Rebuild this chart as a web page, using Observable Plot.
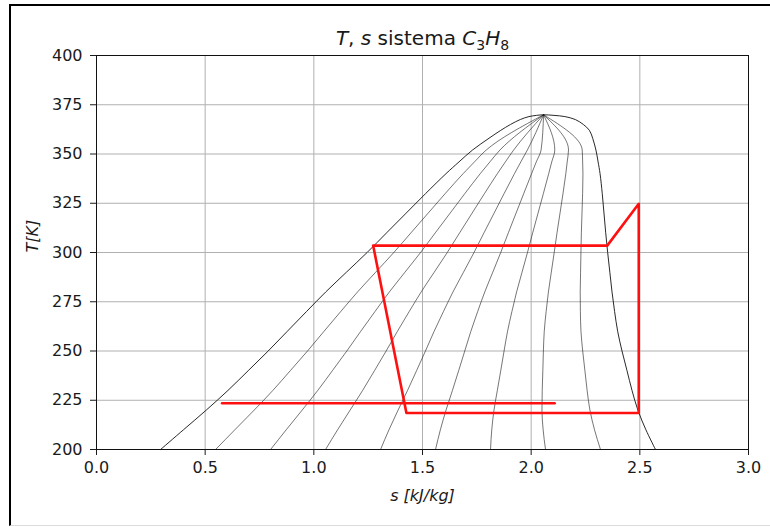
<!DOCTYPE html>
<html><head><meta charset="utf-8">
<script src="https://cdn.jsdelivr.net/npm/d3@7"></script>
<script src="https://cdn.jsdelivr.net/npm/@observablehq/plot@0.6"></script>
<style>
body{margin:0;background:#fff;}
#wrap{position:relative;width:770px;height:527px;overflow:hidden;background:#fff;}
#border{position:absolute;left:9px;top:4px;right:-5px;bottom:1px;border-left:2px solid #000;border-top:2px solid #000;border-bottom:1px solid #dcdcdc;pointer-events:none;}
</style></head><body>
<div id="wrap"><div id="chart"></div><div id="border"></div></div>
<script>
// Saturation table: temperature [K], liquid entropy, vapour entropy [kJ/kgK]
const satT  = [200, 210, 220, 230, 240, 250, 260, 270, 280, 290, 300, 310, 320, 330, 340, 346, 352, 358, 362, 365, 367.5, 369, 369.6, 369.9];
const satSL = [0.295, 0.400, 0.505, 0.605, 0.698, 0.790, 0.878, 0.966, 1.055, 1.150, 1.245, 1.335, 1.425, 1.515, 1.608, 1.668, 1.730, 1.806, 1.860, 1.905, 1.950, 1.990, 2.025, 2.057];
const satSV = [2.572, 2.528, 2.491, 2.464, 2.441, 2.418, 2.398, 2.384, 2.372, 2.362, 2.352, 2.343, 2.335, 2.327, 2.317, 2.308, 2.298, 2.283, 2.268, 2.240, 2.203, 2.155, 2.105, 2.057];
// Vapour qualities of the inner lines
const qualities = [1/9, 2/9, 3/9, 4/9, 5/9, 6/9, 7/9, 8/9];
// Refrigeration cycle (red)
const cycleS = [1.273, 2.350, 2.495, 2.495, 1.426, 1.273];
const cycleT = [303.5, 303.5, 324.7, 218.5, 218.5, 303.5];
// Separate red horizontal line
const lineS = [0.578, 2.108];
const lineT = [223.5, 223.5];
// Ticks
const xTicks = [0, 0.5, 1.0, 1.5, 2.0, 2.5, 3.0];
const yTicks = [200, 225, 250, 275, 300, 325, 350, 375, 400];

const Tc = satT[satT.length - 1];
const dome = [
  ...satT.map((T, i) => ({s: satSL[i], T})),
  ...satT.slice(0, -1).map((T, i) => ({s: satSV[i], T})).reverse()
];
// quality lines use the table rows up to 352 K and the critical point
const qLines = qualities.flatMap(q => satT
  .map((T, i) => ({q, T, s: satSL[i] + q * (satSV[i] - satSL[i])}))
  .filter(d => d.T <= 352 || d.T === Tc));
const cycle = cycleS.map((s, i) => ({s, T: cycleT[i]}));
const hline = lineS.map((s, i) => ({s, T: lineT[i]}));

const chart = Plot.plot({
  width: 770, height: 527,
  marginLeft: 96, marginRight: 22, marginTop: 55, marginBottom: 78,
  style: {fontFamily: "DejaVu Sans", fontSize: "16px", color: "#1a1a1a", background: "transparent"},
  x: {domain: [0, 3], ticks: xTicks, tickFormat: d3.format(".1f"), tickSize: 6, tickPadding: 6, label: null},
  y: {domain: [200, 400], ticks: yTicks, tickSize: 6, tickPadding: 8, label: null},
  marks: [
    Plot.ruleX(xTicks, {stroke: "#b0b0b0", strokeWidth: 1}),
    Plot.ruleY(yTicks, {stroke: "#b0b0b0", strokeWidth: 1}),
    Plot.line(qLines, {x: "s", y: "T", z: "q", stroke: "#1a1a1a", strokeWidth: 0.6, curve: "monotone-y"}),
    Plot.line(dome, {x: "s", y: "T", stroke: "#111", strokeWidth: 0.9, curve: "catmull-rom"}),
    Plot.line(hline, {x: "s", y: "T", stroke: "#ff1010", strokeWidth: 2.6}),
    Plot.line(cycle, {x: "s", y: "T", stroke: "#ff1010", strokeWidth: 2.6, strokeLinejoin: "round"}),
    Plot.frame({stroke: "#111", strokeWidth: 1}),
    Plot.text(["T, s sistema C3H8"], {frameAnchor: "top", lineAnchor: "middle", dy: -17, fontSize: 20, className: "ttl"}),
    Plot.text(["T[K]"], {frameAnchor: "left", lineAnchor: "middle", dx: -64, rotate: -90, fontSize: 16, fontStyle: "italic", className: "ylab"}),
    Plot.text(["s [kJ/kg]"], {frameAnchor: "bottom", lineAnchor: "middle", dy: 46, fontSize: 16, fontStyle: "italic", className: "xlab"})
  ]
});
document.getElementById("chart").appendChild(chart);

// Rich title: italic symbols and subscripts
const t = d3.select(chart).select("g.ttl text");
t.text(null);
const parts = [["T", "italic", 0, 20], [", ", "normal", 0, 20], ["s", "italic", 0, 20], [" sistema ", "normal", 0, 20],
               ["C", "italic", 0, 20], ["3", "normal", 5, 14], ["H", "italic", -5, 20], ["8", "normal", 5, 14]];
parts.forEach(([txt, st, dy, fs]) => t.append("tspan").attr("font-style", st).attr("dy", dy).attr("font-size", fs).text(txt));
</script>
</body></html>
